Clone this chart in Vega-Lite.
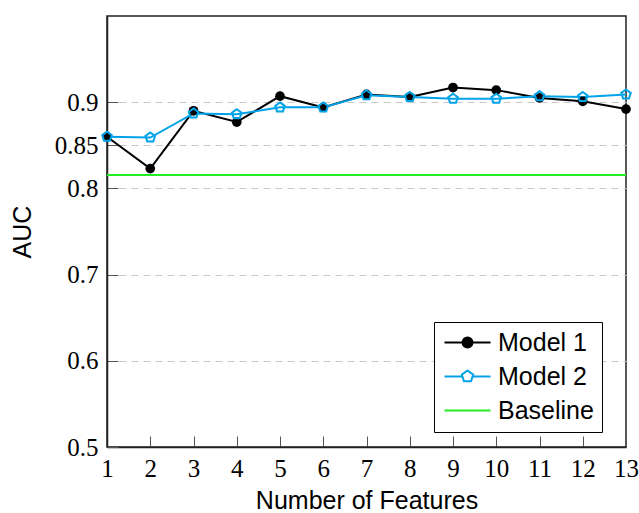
{
  "$schema": "https://vega.github.io/schema/vega-lite/v6.json",
  "width": 519,
  "height": 431,
  "autosize": {"type": "none"},
  "padding": {"left": 107, "top": 16, "right": 13, "bottom": 66},
  "background": "white",
  "config": {
    "view": {"stroke": "#222222", "strokeWidth": 1.5}
  },
  "data": {
    "values": [
      {"x": 1, "auc": 0.860, "series": "Model 1"},
      {"x": 2, "auc": 0.823, "series": "Model 1"},
      {"x": 3, "auc": 0.890, "series": "Model 1"},
      {"x": 4, "auc": 0.877, "series": "Model 1"},
      {"x": 5, "auc": 0.907, "series": "Model 1"},
      {"x": 6, "auc": 0.894, "series": "Model 1"},
      {"x": 7, "auc": 0.909, "series": "Model 1"},
      {"x": 8, "auc": 0.906, "series": "Model 1"},
      {"x": 9, "auc": 0.917, "series": "Model 1"},
      {"x": 10, "auc": 0.914, "series": "Model 1"},
      {"x": 11, "auc": 0.905, "series": "Model 1"},
      {"x": 12, "auc": 0.901, "series": "Model 1"},
      {"x": 13, "auc": 0.892, "series": "Model 1"},
      {"x": 1, "auc": 0.860, "series": "Model 2"},
      {"x": 2, "auc": 0.859, "series": "Model 2"},
      {"x": 3, "auc": 0.887, "series": "Model 2"},
      {"x": 4, "auc": 0.886, "series": "Model 2"},
      {"x": 5, "auc": 0.894, "series": "Model 2"},
      {"x": 6, "auc": 0.894, "series": "Model 2"},
      {"x": 7, "auc": 0.908, "series": "Model 2"},
      {"x": 8, "auc": 0.906, "series": "Model 2"},
      {"x": 9, "auc": 0.904, "series": "Model 2"},
      {"x": 10, "auc": 0.904, "series": "Model 2"},
      {"x": 11, "auc": 0.907, "series": "Model 2"},
      {"x": 12, "auc": 0.906, "series": "Model 2"},
      {"x": 13, "auc": 0.909, "series": "Model 2"},
      {"x": 1, "auc": 0.8155, "series": "Baseline"},
      {"x": 13, "auc": 0.8155, "series": "Baseline"}
    ]
  },
  "encoding": {
    "x": {
      "field": "x", "type": "quantitative",
      "scale": {"domain": [1, 13], "nice": false, "zero": false},
      "axis": {
        "orient": "bottom",
        "values": [1, 2, 3, 4, 5, 6, 7, 8, 9, 10, 11, 12, 13],
        "format": "d",
        "domainColor": "#222222",
        "domainWidth": 1.5,
        "tickColor": "#555555",
        "tickWidth": 1,
        "tickSize": -11,
        "labelFlush": false,
        "labelFont": "Liberation Serif",
        "labelFontSize": 25,
        "labelColor": "#000000",
        "labelPadding": 20,
        "title": "Number of Features",
        "titleFont": "Liberation Sans",
        "titleFontSize": 25,
        "titleFontWeight": "normal",
        "titleColor": "#000000",
        "titlePadding": 7,
        "gridOpacity": 0
      }
    },
    "y": {
      "field": "auc", "type": "quantitative",
      "scale": {"domain": [0.5, 1.0], "nice": false, "zero": false},
      "axis": {
        "orient": "left",
        "values": [0.5, 0.6, 0.7, 0.8, 0.85, 0.9],
        "format": ".2~f",
        "domainColor": "#222222",
        "domainWidth": 1.5,
        "tickColor": "#555555",
        "tickWidth": 1,
        "tickSize": -11,
        "labelFlush": false,
        "labelFont": "Liberation Serif",
        "labelFontSize": 25,
        "labelColor": "#000000",
        "labelPadding": 20,
        "title": "AUC",
        "titleFont": "Liberation Sans",
        "titleFontSize": 25,
        "titleFontWeight": "normal",
        "titleColor": "#000000",
        "titlePadding": 19,
        "gridColor": "#c8c8c8",
        "gridDash": [7, 5],
        "gridWidth": 1.2
      }
    }
  },
  "layer": [
    {
      "mark": {"type": "line", "strokeWidth": 2},
      "encoding": {
        "color": {
          "field": "series", "type": "nominal",
          "scale": {"domain": ["Model 1", "Model 2", "Baseline"], "range": ["#000000", "#00a2e8", "#22ee22"]},
          "legend": {
            "title": null,
            "orient": "none",
            "legendX": 327,
            "legendY": 306,
            "direction": "vertical",
            "strokeColor": "#000000",
            "fillColor": "#ffffff",
            "padding": 8,
            "symbolSize": 400,
            "symbolOffset": 13,
            "symbolStrokeWidth": 2,
            "labelFont": "Liberation Sans",
            "labelFontSize": 25,
            "labelColor": "#000000",
            "labelOffset": 18,
            "rowPadding": 8,
            "encode": {
              "symbols": {
                "update": {
                  "shape": {"signal": "datum.value === 'Model 1' ? 'M-2.3,0L2.3,0M-0.5,0A0.5,0.5,0,1,0,0.5,0A0.5,0.5,0,1,0,-0.5,0Z' : datum.value === 'Model 2' ? 'M-2.3,0L-0.5,0M0.5,0L2.3,0M0,-0.6L0.571,-0.185L0.353,0.485L-0.353,0.485L-0.571,-0.185Z' : 'M-2.3,0L2.3,0'"},
                  "fill": {"signal": "datum.value === 'Model 1' ? '#000000' : datum.value === 'Model 2' ? '#ffffff' : 'transparent'"},
                  "stroke": {"signal": "datum.value === 'Model 1' ? '#000000' : datum.value === 'Model 2' ? '#00a2e8' : '#22ee22'"},
                  "fillOpacity": {"value": 1},
                  "strokeOpacity": {"value": 1},
                  "strokeWidth": {"value": 2}
                }
              }
            }
          }
        }
      }
    },
    {
      "transform": [{"filter": "datum.series === 'Model 1'"}],
      "mark": {"type": "point", "shape": "circle", "filled": true, "size": 95, "color": "#000000", "opacity": 1}
    },
    {
      "transform": [{"filter": "datum.series === 'Model 2'"}],
      "mark": {"type": "point", "shape": "M0,-1L0.951,-0.309L0.588,0.809L-0.588,0.809L-0.951,-0.309Z", "filled": false, "size": 100, "stroke": "#00a2e8", "strokeWidth": 2, "opacity": 1}
    }
  ]
}
